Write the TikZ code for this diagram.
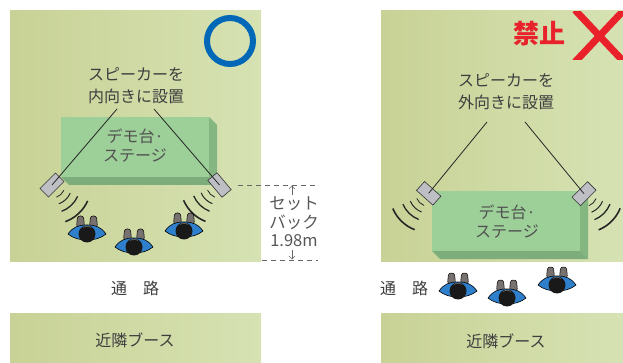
\documentclass[tikz,border=0pt]{standalone}
\usepackage{fontspec}
\setmainfont{Noto Sans CJK JP}
\usetikzlibrary{arrows.meta}

\definecolor{fieldL}{HTML}{C8D296}
\definecolor{fieldR}{HTML}{D6E2B3}
\definecolor{stageF}{HTML}{9DCF98}
\definecolor{stageS}{HTML}{84B682}
\definecolor{spk}{HTML}{BEBFC4}
\definecolor{okblue}{HTML}{0068B7}
\definecolor{ngred}{HTML}{E8212B}
\definecolor{txt}{HTML}{3E3E3E}
\definecolor{shirt}{HTML}{2F80CC}
\definecolor{hand}{HTML}{77716F}
\definecolor{dimgray}{HTML}{666666}

\tikzset{
  field/.style={left color=fieldL, right color=fieldR},
  label/.style={text=txt, align=center, inner sep=0pt,
    font=\fontsize{16}{22}\selectfont},
  stagelabel/.style={text=txt!90, align=center, inner sep=0pt,
    font=\fontsize{16}{19}\selectfont},
  speaker/.style={draw=black!80, line width=0.6pt, fill=spk,
    minimum width=22pt, minimum height=12pt, inner sep=0pt},
  wire/.style={black!85, line width=0.8pt},
  dimline/.style={dimgray, line width=0.9pt, dash pattern=on 5pt off 4pt},
  dimarrow/.style={dimgray, line width=0.6pt,
    -{Straight Barb[length=3pt,width=6pt]}},
  person/.pic={
    \foreach \s in {-1,1}
      \draw[fill=hand, line width=0.5pt, rounded corners=2.5pt]
        (\s*2.5,-6) -- (\s*3.5,-17) -- (\s*9.5,-17) -- (\s*10.5,-6) -- cycle;
    \draw[fill=shirt, line width=0.6pt]
      (-19,1) .. controls (-14,-6) and (-9,-8) .. (0,-8)
      .. controls (9,-8) and (14,-6) .. (19,1)
      .. controls (14,5) and (8,7) .. (0,7)
      .. controls (-8,7) and (-14,5) .. (-19,1) -- cycle;
    \fill[black!90] (0,1) circle (8.5);
    \draw[hand!80, line width=0.4pt] (-4,-5.5) .. controls (-2,-7) and (2,-7) .. (4,-5.5);
  }
}

% sound waves leaving a speaker towards a given direction
\newcommand\soundwaves[2]{%
  \foreach \r/\w in {13/0.8,20/1.0,28/1.3,39/1.6}
    \draw[black!85, line width=\w pt] (#1) ++({#2-23}:\r)
      arc[start angle={#2-23}, end angle={#2+23}, radius=\r];
}

% extruded demo stage, top-left corner of the front face at the origin
\newcommand\demostage{%
  \fill[stageS] (148,0) -- (156,8) -- (156,68) -- (148,60) -- cycle;
  \fill[stageS!95!black] (0,60) -- (148,60) -- (156,68) -- (8,68) -- cycle;
  \fill[stageF] (0,0) rectangle (148,60);
}

\begin{document}
\begin{tikzpicture}[x=1pt,y=-1pt]
\useasboundingbox (0,0) rectangle (623,363);

% floor areas
\shade[field] (10,11) rectangle (261,261);
\shade[field] (381,11) rectangle (623,261);
\shade[field] (10,313) rectangle (261,363);
\shade[field] (381,313) rectangle (623,363);

% ---------- left: speakers turned inwards ----------
\begin{scope}[shift={(61,117)}] \demostage \end{scope}
\node[stagelabel] (stageA) at (135,146) {デモ台·\\ステージ};
\node[label] (noteA) at (136,86) {スピーカーを\\内向きに設置};
\draw[okblue, line width=6pt] (230,41) circle (23);

\node[speaker, rotate=45] (spkA1) at (52,185) {};
\node[speaker, rotate=-50] (spkA2) at (219.5,185) {};
\coordinate (wireA1) at (117,109);
\coordinate (wireA2) at (154,109);
\draw[wire] (wireA1) -- (spkA1.center);
\draw[wire] (wireA2) -- (spkA2.center);
\soundwaves{spkA1.center}{47}
\soundwaves{spkA2.center}{134}

\pic at (87,233) {person};
\pic at (134,246) {person};
\pic at (184,230) {person};

% setback dimension
\coordinate (dimT1) at (238,185);
\coordinate (dimT2) at (318,185);
\coordinate (dimB1) at (262,260);
\coordinate (dimB2) at (318,260);
\draw[dimline] (dimT1) -- (dimT2);
\draw[dimline] (dimB1) -- (dimB2);
\node[text=dimgray!85!black, align=center, inner sep=0pt,
  font=\fontsize{16.5}{18.5}\selectfont] (setback) at (294,222)
  {セット\\バック\\1.98m};
\coordinate (arT) at (292,185.6);
\coordinate (arB) at (292,259.4);
\draw[dimarrow] (292,195) -- (arT);
\draw[dimarrow] (292,250) -- (arB);

\node[label] (aisleA) at (135,288) {通　路};
\node[label] (boothA) at (135,340) {近隣ブース};

% ---------- right: speakers turned outwards ----------
\begin{scope}[shift={(432,191)}] \demostage \end{scope}
\node[stagelabel] (stageB) at (507,221.5) {デモ台·\\ステージ};
\node[label] (noteB) at (506,91.5) {スピーカーを\\外向きに設置};
\node[text=ngred, inner sep=0pt, font=\fontsize{26}{26}\selectfont\bfseries]
  (ban) at (539,34) {禁止};
\begin{scope}
  \clip (560,12) rectangle (623,60);
  \draw[ngred, line width=7pt] (575,10) -- (624,62);
  \draw[ngred, line width=7pt] (624,10) -- (575,62);
\end{scope}

\node[speaker, rotate=-42] (spkB1) at (428.7,193.3) {};
\node[speaker, rotate=45] (spkB2) at (584,193.7) {};
\coordinate (wireB1) at (487,122);
\coordinate (wireB2) at (525,122);
\draw[wire] (wireB1) -- (spkB1.center);
\draw[wire] (wireB2) -- (spkB2.center);
\soundwaves{spkB1.center}{134}
\soundwaves{spkB2.center}{45}

\node[label] (aisleB) at (404,288) {通　路};
\pic at (458,290) {person};
\pic at (507,297) {person};
\pic at (557,284) {person};
\node[label] (boothB) at (506,341) {近隣ブース};
\end{tikzpicture}
\end{document}
